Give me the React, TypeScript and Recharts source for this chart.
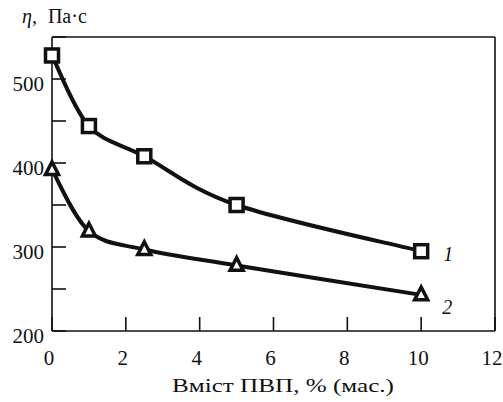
import React from 'react';
import { LineChart, Line, XAxis, YAxis, ReferenceLine, LabelList } from 'recharts';

const xValues = [0, 1, 2.5, 5, 10];
const series1 = [528, 444, 408, 350, 295];
const series2 = [392, 319, 297, 278, 243];
const xTicks = [0, 2, 4, 6, 8, 10, 12];
const yTicks = [200, 250, 300, 350, 400, 450, 500, 550];
const yLabeled = [200, 300, 400, 500];
const seriesNames = ['1', '2'];

const data = xValues.map((x, i) => ({ x, s1: series1[i], s2: series2[i] }));

const FONT = "'Liberation Serif', 'Times New Roman', serif";

// Catmull-Rom curve factory (d3-style interface)
function catmullRom(context: any) {
  let pts: number[][] = [];
  return {
    areaStart() {},
    areaEnd() {},
    lineStart() {
      pts = [];
    },
    lineEnd() {
      const n = pts.length;
      if (n === 0) return;
      context.moveTo(pts[0][0], pts[0][1]);
      for (let i = 0; i < n - 1; i++) {
        const p0 = pts[Math.max(i - 1, 0)];
        const p1 = pts[i];
        const p2 = pts[i + 1];
        const p3 = pts[Math.min(i + 2, n - 1)];
        const c1x = p1[0] + (p2[0] - p0[0]) / 6;
        const c1y = p1[1] + (p2[1] - p0[1]) / 6;
        const c2x = p2[0] - (p3[0] - p1[0]) / 6;
        const c2y = p2[1] - (p3[1] - p1[1]) / 6;
        context.bezierCurveTo(c1x, c1y, c2x, c2y, p2[0], p2[1]);
      }
    },
    point(x: number, y: number) {
      pts.push([+x, +y]);
    },
  };
}

const XTick = (props: any) => {
  const { x, y, payload } = props;
  return (
    <g>
      <line x1={x} x2={x} y1={y} y2={y - 14} stroke="#111" strokeWidth={1.6} />
      <text x={x - 3} y={y + 34} textAnchor="middle" fontFamily={FONT} fontSize={21} fill="#111">
        {payload.value}
      </text>
    </g>
  );
};

const YTick = (props: any) => {
  const { x, y, payload } = props;
  const show = yLabeled.includes(payload.value);
  return (
    <g>
      <line x1={x} x2={x + 14} y1={y} y2={y} stroke="#111" strokeWidth={1.6} />
      {show && (
        <text x={x - 8} y={y + 12} textAnchor="end" fontFamily={FONT} fontSize={21} fill="#111">
          {payload.value}
        </text>
      )}
    </g>
  );
};

const SquareDot = (props: any) => {
  const { cx, cy, index } = props;
  return (
    <rect key={`sq-${index}`} x={cx - 6.5} y={cy - 6.5} width={13} height={13} fill="#fff" stroke="#111" strokeWidth={3.5} />
  );
};

const TriDot = (props: any) => {
  const { cx, cy, index } = props;
  const s = 6.5;
  const pts = `${cx},${cy - s * 1.2} ${cx - s},${cy + s * 0.75} ${cx + s},${cy + s * 0.75}`;
  return <polygon key={`tr-${index}`} points={pts} fill="#fff" stroke="#111" strokeWidth={3.5} strokeLinejoin="miter" />;
};

const makeEndLabel = (name: string, dx: number, dy: number) => (props: any) => {
  const { x, y, index } = props;
  if (index !== xValues.length - 1) return null;
  return (
    <text x={x + dx} y={y + dy} fontFamily={FONT} fontStyle="italic" fontSize={20} fill="#111">
      {name}
    </text>
  );
};

export default function App() {
  return (
    <div style={{ position: 'absolute', left: 0, top: 0, width: 503, height: 402, background: '#fff' }}>
      <LineChart
        width={503}
        height={402}
        data={data}
        margin={{ top: 37, right: 8, left: 0, bottom: 0 }}
      >
        <XAxis
          dataKey="x"
          type="number"
          domain={[0, 12]}
          ticks={xTicks}
          interval={0}
          height={71}
          tickSize={0}
          tickMargin={0}
          tickLine={false}
          tick={<XTick />}
          axisLine={{ stroke: '#111', strokeWidth: 1.6 }}
        />
        <YAxis
          type="number"
          domain={[200, 550]}
          ticks={yTicks}
          interval={0}
          width={52}
          tickSize={0}
          tickMargin={0}
          tickLine={false}
          tick={<YTick />}
          axisLine={{ stroke: '#111', strokeWidth: 1.6 }}
        />
        <ReferenceLine y={550} stroke="#111" strokeWidth={1.6} />
        <ReferenceLine x={12} stroke="#111" strokeWidth={1.6} />
        <Line
          dataKey="s1"
          type={catmullRom as any}
          stroke="#111"
          strokeWidth={4}
          dot={SquareDot}
          activeDot={false}
          isAnimationActive={false}
        >
          <LabelList dataKey="s1" content={makeEndLabel(seriesNames[0], 22, 10)} />
        </Line>
        <Line
          dataKey="s2"
          type={catmullRom as any}
          stroke="#111"
          strokeWidth={4}
          dot={TriDot}
          activeDot={false}
          isAnimationActive={false}
        >
          <LabelList dataKey="s2" content={makeEndLabel(seriesNames[1], 21, 19)} />
        </Line>
      </LineChart>
      <svg
        width={503}
        height={402}
        style={{ position: 'absolute', left: 0, top: 0, pointerEvents: 'none' }}
      >
        <text x={22} y={23} fontFamily={FONT} fontSize={20} fill="#111">
          <tspan fontStyle="italic">η</tspan>
          <tspan>, </tspan>
          <tspan dx={6}>Па·с</tspan>
        </text>
        <text
          x={172}
          y={392}
          fontFamily={FONT}
          fontSize={19}
          fill="#111"
          textLength={222}
          lengthAdjust="spacingAndGlyphs"
        >
          Вміст ПВП, % (мас.)
        </text>
      </svg>
    </div>
  );
}
